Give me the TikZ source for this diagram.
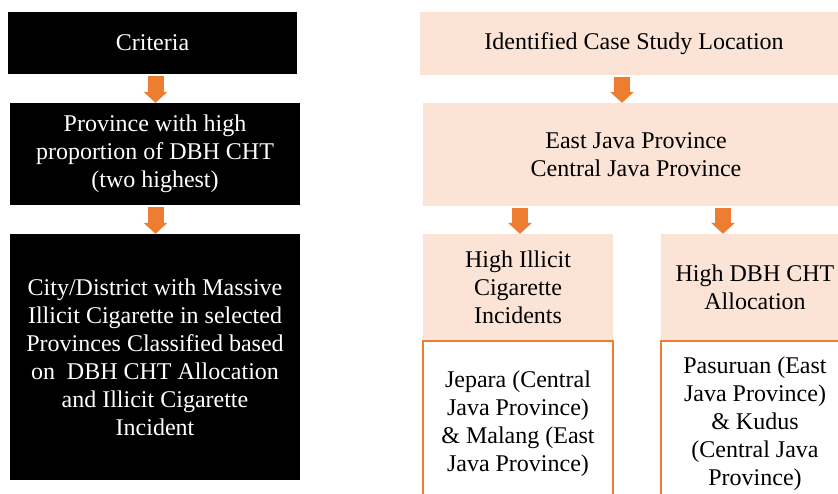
\documentclass[tikz,border=0pt]{standalone}
\usepackage{fontspec}
\setmainfont{Liberation Serif}
\usetikzlibrary{arrows.meta}
\definecolor{peach}{HTML}{FBE3D6}
\definecolor{orng}{HTML}{ED7D31}
\begin{document}
\begin{tikzpicture}[x=1pt,y=-1pt,
  box/.style={rectangle, inner sep=0pt, align=center, font=\fontsize{24}{28}\selectfont},
  blk/.style={box, fill=black, text=white},
  pch/.style={box, fill=peach, text=black},
  lst/.style={box, fill=white, draw=orng, line width=1.5pt},
  barrow/.style={draw=orng, line width=16pt, -{Triangle[width=24pt,length=11pt,line width=0pt]}, shorten <=2pt}]
\useasboundingbox (0,0) rectangle (838,494);
\clip (0,0) rectangle (838,494);
% left column
\node[blk, minimum width=289pt, minimum height=62pt] (crit) at (152.5,43) {Criteria};
\node[blk, minimum width=290pt, minimum height=102pt] (prov) at (155,154) {Province with high\\proportion of DBH CHT\\(two highest)};
\node[blk, minimum width=290pt, minimum height=246pt] (city) at (155,357) {City/District with Massive\\Illicit Cigarette in selected\\Provinces Classified based\\on\ \ DBH CHT Allocation\\and Illicit Cigarette\\Incident};
% right column
\node[pch, minimum width=428pt, minimum height=63pt] (ident) at (634,43.5) {Identified Case Study Location};
\node[pch, minimum width=426pt, minimum height=103pt] (east) at (636,154.5) {East Java Province\\Central Java Province};
\node[pch, minimum width=190pt, minimum height=106pt] (illicit) at (518,287) {High Illicit\\Cigarette\\Incidents};
\node[pch, minimum width=188pt, minimum height=106pt] (dbh) at (755,287) {High DBH CHT\\Allocation};
\node[lst, minimum width=190pt, minimum height=165pt, anchor=north] (illist) at (illicit.south) {Jepara (Central\\Java Province)\\\&{} Malang (East\\Java Province)};
\node[lst, minimum width=188pt, minimum height=165pt, anchor=north] (dbhlist) at (dbh.south) {Pasuruan (East\\Java Province)\\\&{} Kudus\\(Central Java\\Province)};
% arrows
\coordinate (a1) at (155.5,0);
\coordinate (a2) at (622,0);
\coordinate (a3) at (520,0);
\coordinate (a4) at (723,0);
\draw[barrow] (crit.south -| a1) -- (prov.north -| a1);
\draw[barrow] (prov.south -| a1) -- (city.north -| a1);
\draw[barrow] (ident.south -| a2) -- (east.north -| a2);
\draw[barrow] (east.south -| a3) -- (illicit.north -| a3);
\draw[barrow] (east.south -| a4) -- (dbh.north -| a4);
\end{tikzpicture}
\end{document}
